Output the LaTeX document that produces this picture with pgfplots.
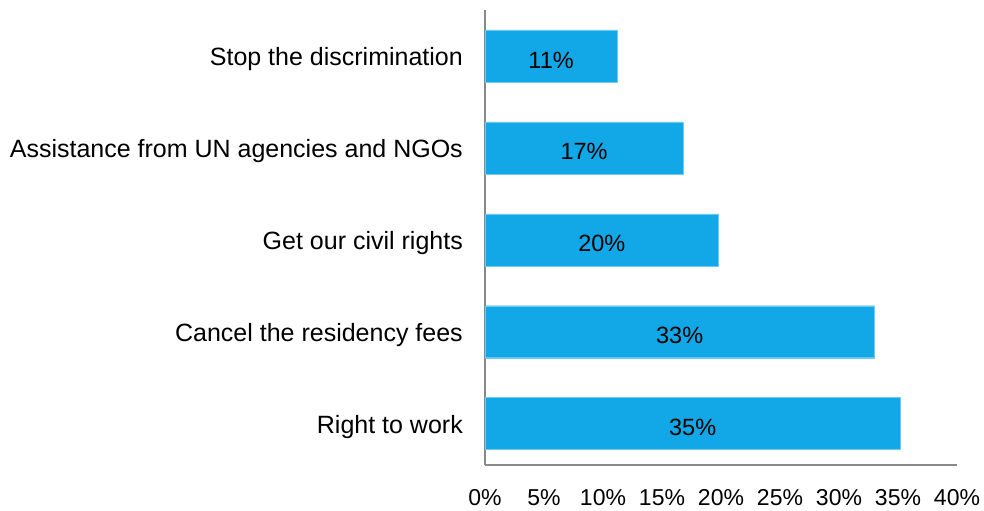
\documentclass[border=0pt]{standalone}
\usepackage{pgfplots}
\pgfplotsset{compat=1.18}
\usepackage{fontspec}
\setmainfont{Liberation Sans}
\definecolor{barblue}{RGB}{18,167,230}
\definecolor{axgray}{RGB}{137,137,137}
\begin{document}
\begin{tikzpicture}
\path[use as bounding box] (-485bp,-46bp) rectangle (499bp,465bp);
\begin{axis}[
  at={(0,0)}, anchor=south west,
  width=472bp, height=455bp, scale only axis,
  xbar, bar width=52bp,
  xmin=0, xmax=40, ymin=-0.45, ymax=4.5,
  xtick={0,5,...,40},
  xticklabel={\pgfmathprintnumber{\tick}\%},
  ytick={0,1,2,3,4},
  yticklabels={Right to work, Cancel the residency fees, Get our civil rights, Assistance from UN agencies and NGOs, Stop the discrimination},
  axis x line=bottom, axis y line=left,
  axis line style={-, draw=axgray, line width=1.3bp},
  major tick length=0pt,
  tick style={draw=none},
  /pgf/number format/assume math mode=true,
  tick label style={text=black},
  xticklabel style={font=\fontsize{23bp}{27bp}\selectfont, inner sep=0pt, yshift=-24bp},
  yticklabel style={font=\fontsize{25bp}{29bp}\selectfont, inner sep=0pt, xshift=-22bp, yshift=-3bp},
  visualization depends on={rawx \as \rawx},
  nodes near coords={\pgfmathprintnumber[fixed,precision=0]{\pgfplotspointmeta}\%},
  point meta=x,
  every node near coord/.append style={anchor=center, inner sep=0pt, xshift=-5.9bp*\rawx, yshift=-4bp, font=\fontsize{23.5bp}{27bp}\selectfont, text=black},
  clip=false,
]
\addplot[fill=barblue, draw=barblue!60] coordinates {(35.2,0) (33.0,1) (19.8,2) (16.8,3) (11.2,4)};
\end{axis}
\end{tikzpicture}
\end{document}
